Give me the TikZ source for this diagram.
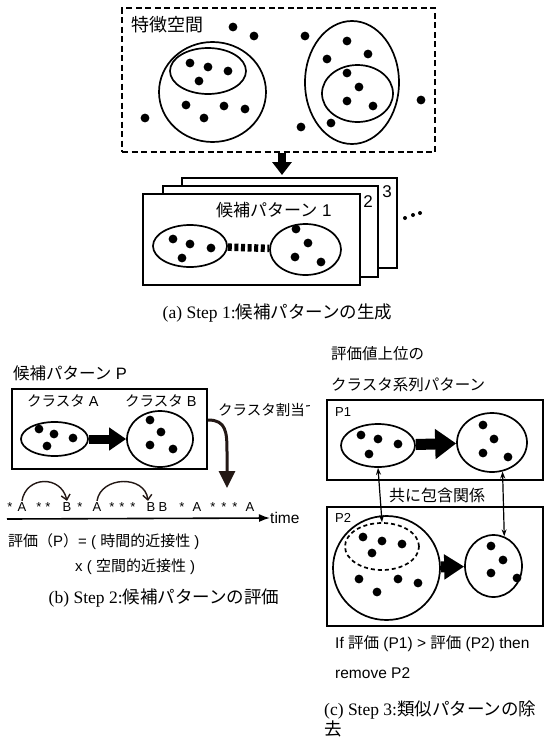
\documentclass[tikz,border=0pt]{standalone}
\usepackage{fontspec}
\setmainfont{Liberation Sans}
\newfontfamily\cjk{Noto Sans CJK JP}
\newfontfamily\serifrm{Liberation Serif}
\usetikzlibrary{shapes.geometric,arrows.meta,calc}
\newcommand\jp[1]{{\cjk #1}}
\newcommand\fs[1]{\fontsize{#1}{#1}\selectfont}
\definecolor{dk}{HTML}{231815}
\begin{document}
\begin{tikzpicture}[x=1pt,y=-1pt,
  ell/.style={ellipse,draw,line width=1.7pt,inner sep=0pt},
  boxr/.style={draw,line width=2.3pt,fill=white,inner sep=0pt},
  lbl/.style={inner sep=0pt,anchor=west},
  seqc/.style={anchor=base,inner sep=1pt,font={\fs{13}}},
  dbl/.style={line width=1.2pt,{Stealth[length=7pt,width=5pt]}-{Stealth[length=7pt,width=5pt]}},
  arcarr/.style={dk,line width=1.4pt,-{Straight Barb[length=5pt,width=9pt]}},
  capt/.style={inner sep=0pt,font={\fs{17.5}\serifrm}}
]
\fill[white] (0,0) rectangle (553,747);
\useasboundingbox (0,0) rectangle (553,747);
\newcommand\dotsat[1]{\foreach \p in {#1} \fill \p circle[radius=4.4pt];}

% ---------------- (a)
\node[draw,line width=2.3pt,dash pattern=on 6pt off 3.5pt,minimum width=313pt,minimum height=144pt,inner sep=0pt] (fs) at (278.5,80) {};
\node[lbl] (fst) at (131,25) {\fs{18}\jp{特徴空間}};
\node[ell,minimum width=107pt,minimum height=100pt] (c1) at (212.5,92) {};
\node[ell,minimum width=76pt,minimum height=46pt] (c1i) at (208,71) {};
\node[ell,minimum width=94pt,minimum height=123pt] (c2) at (352,82.5) {};
\node[ell,minimum width=71pt,minimum height=57pt] (c2i) at (357.5,93.5) {};
\dotsat{(233,27),(254,36),(305,36),(145,118),(301,127),(421,100),
  (190,63),(208,67),(228,71),(199,81),(186,105),(224,106),(245,109),(204,118),
  (347,41),(327,59),(368,54),(347,73),(359,87),(347,101),(373,106),(331,123)}

\coordinate (atip) at (282,175);
\draw[line width=8pt,-{Triangle[length=13pt,width=19pt]}] (fs.south -| atip) -- (atip);

\node[boxr,minimum width=215pt,minimum height=90pt] (b3) at (289.5,223) {};
\node[boxr,minimum width=215pt,minimum height=91pt] (b2) at (270.5,231.5) {};
\node[boxr,minimum width=217pt,minimum height=91pt] (b1) at (251.5,239.5) {};
\node[inner sep=0pt] (n3) at (387,192) {\fs{17}3};
\node[inner sep=0pt] (n2) at (368,202) {\fs{17}2};
\node[lbl] (cp1) at (216,210) {\fs{17}\jp{候補パターン} 1};
\foreach \p in {(405,218),(413,215),(420,213)} \fill \p circle[radius=2pt];
\node[ell,minimum width=74pt,minimum height=42pt] (pl) at (190,246) {};
\node[ell,minimum width=71pt,minimum height=51pt] (pr) at (305.5,249.5) {};
\dotsat{(173,239),(190,244),(211,248),(182,258),(296,229),(308,243),(295,257),(321,262)}
\draw[line width=7.5pt,dash pattern=on 4pt off 2.6pt] (pl) -- (pr);
\node[capt] (capa) at (277.5,313) {(a) Step 1:\jp{候補パターンの生成}};

% ---------------- (b)
\node[lbl] (cpP) at (13,373) {\fs{16.5}\jp{候補パターン} P};
\node[boxr,minimum width=195pt,minimum height=80pt] (boxP) at (109.5,429) {};
\node[lbl] (clA) at (27,401) {\fs{14.5}\jp{クラスタ} A};
\node[lbl] (clB) at (125,401) {\fs{14.5}\jp{クラスタ} B};
\node[ell,minimum width=67pt,minimum height=34pt] (ba) at (54.5,439) {};
\node[ell,minimum width=66pt,minimum height=56pt] (bb) at (160,439) {};
\dotsat{(39,429),(54,434),(73,438),(47,446),(150,420),(161,432),(150,445),(173,449)}
\draw[line width=9pt,-{Triangle[length=17pt,width=22pt]}] (ba) -- (bb);
\begin{scope}
\clip (212,395) rectangle (309,428);
\node[lbl] (wari) at (218,410) {\fs{14.5}\jp{クラスタ割当て}};
\end{scope}
\coordinate (ctip) at (227,488);
\draw[dk,line width=3pt,-{Triangle[length=17pt,width=16pt]}] ($(boxP.east)+(0,-9)$) .. controls ($(boxP.east)+(18,-9)$) and (227,432) .. (227,452) -- (ctip);

\foreach \i/\x/\c in {1/10/*,2/22/A,3/39/*,4/48/*,5/67/B,6/80/*,7/97/A,8/112/*,9/122/*,10/133/*,11/151/B,12/163/B,13/182/*,14/197/A,15/213/*,16/224/*,17/235/*,18/250/A}
  \node[seqc] (s\i) at (\x,511) {\c};
\draw[arcarr] (s2.north) .. controls ($(s2.north)+(4,-25)$) and ($(s5.north)+(-6,-26)$) .. (s5.north);
\draw[arcarr] (s7.north) .. controls ($(s7.north)+(4,-25)$) and ($(s11.north)+(-6,-26)$) .. ($(s11.north)+(-3,0)$);
\coordinate (ax0) at (7,519);
\node[lbl] (time) at (270,518) {\fs{15.5}time};
\draw[line width=1.6pt,-{Latex[length=11pt,width=8pt]}] (ax0) -- (time.west);
\node[lbl] (ev1) at (8,542) {\fs{15}\jp{評価（}P\jp{）}= ( \jp{時間的近接性} )};
\node[lbl] (ev2) at (75,567) {\fs{15}x ( \jp{空間的近接性} )};
\node[capt] (capb) at (164,598) {(b) Step 2:\jp{候補パターンの評価}};

% ---------------- (c)
\node[lbl] (h1) at (331,354) {\fs{15.5}\jp{評価値上位の}};
\node[lbl] (h2) at (331,385) {\fs{15.5}\jp{クラスタ系列パターン}};
\node[boxr,minimum width=216pt,minimum height=80pt] (P1) at (435,440) {};
\node[lbl] (P1t) at (335,412) {\fs{13}P1};
\node[ell,minimum width=74pt,minimum height=43pt] (cl) at (378,445.5) {};
\node[ell,minimum width=70pt,minimum height=59pt] (cr) at (492,442.5) {};
\dotsat{(361,435),(378,439),(398,444),(369,454),(483,425),(494,439),(483,453),(508,457)}
\draw[line width=11pt,-{Triangle[length=21pt,width=29pt]}] (cl) -- (cr);

\node[boxr,minimum width=216pt,minimum height=119pt] (P2) at (435,566.5) {};
\node[lbl] (P2t) at (335,518) {\fs{13}P2};
\node[ell,minimum width=107pt,minimum height=104pt] (big) at (386.5,568) {};
\node[ell,dash pattern=on 4pt off 3pt,minimum width=74pt,minimum height=47pt] (dsh) at (382,546.5) {};
\node[ell,minimum width=57pt,minimum height=62pt] (p2r) at (493.5,566) {};
\dotsat{(363,537),(382,541),(402,544),(372,553),(359,579),(398,579),(418,583),(377,592),
  (491,546),(503,560),(491,573),(517,578)}
\draw[line width=11pt,-{Triangle[length=20pt,width=24pt]}] (big) -- (p2r);

\node[lbl,fill=white,inner xsep=1pt] (kyo) at (388,495) {\fs{16}\jp{共に包含関係}};
\draw[dbl] (cl.south) -- (dsh.north);
\draw[dbl] (cr.290) -- (p2r.70);

\node[lbl] (ift) at (335,644) {\fs{15.5}If \jp{評価} (P1) > \jp{評価} (P2) then};
\node[lbl] (rmv) at (335,673) {\fs{15.5}remove P2};
\node[capt,anchor=west] (capc) at (324,710) {(c) Step 3:\jp{類似パターンの除}};
\node[capt,anchor=west] (capc2) at (324,729) {\jp{去}};
\end{tikzpicture}
\end{document}
